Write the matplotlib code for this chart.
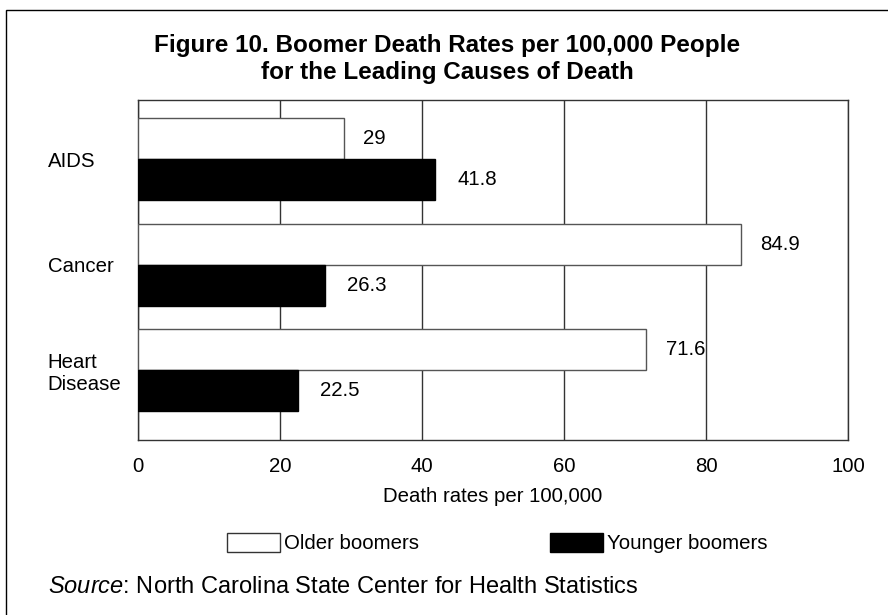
import matplotlib
matplotlib.use("Agg")
import matplotlib.pyplot as plt
from matplotlib.patches import Rectangle, Patch
import numpy as np

plt.rcParams['font.family'] = ['Liberation Sans', 'DejaVu Sans']
plt.rcParams['mathtext.fontset'] = 'custom'
plt.rcParams['mathtext.it'] = 'Liberation Sans:italic'
plt.rcParams['mathtext.rm'] = 'Liberation Sans'

categories = ["AIDS", "Cancer", "Heart\nDisease"]
older = [29, 84.9, 71.6]
younger = [41.8, 26.3, 22.5]
xticks = [0, 20, 40, 60, 80, 100]
series_names = ["Older boomers", "Younger boomers"]

FS = 14.7

fig = plt.figure(figsize=(8.88, 6.15), dpi=100)
ax = fig.add_axes([138/888, 1-440/615, (848-138)/888, 340/615])

y = np.arange(len(categories))
h = 0.39
ax.barh(y - 0.195, older, height=h, color='white', edgecolor='#555555', linewidth=1, zorder=3)
ax.barh(y + 0.195, younger, height=h, color='black', edgecolor='black', linewidth=1, zorder=3)

for yi, v in zip(y, older):
    ax.annotate(f"{v:g}", xy=(v, yi - 0.195), xytext=(14, 0), textcoords='offset points',
                va='center', ha='left', fontsize=FS)
for yi, v in zip(y, younger):
    ax.annotate(f"{v:g}", xy=(v, yi + 0.195), xytext=(16, 0), textcoords='offset points',
                va='center', ha='left', fontsize=FS)

ax.set_xlim(0, 100)
ax.set_ylim(2.66, -0.56)
ax.set_xticks(xticks)
ax.set_xticklabels([str(t) for t in xticks], fontsize=FS)
ax.tick_params(axis='x', length=0, pad=12)
ax.set_yticks(y)
ax.set_yticklabels(categories, fontsize=FS, ha='left', linespacing=1.2)
ax.tick_params(axis='y', length=0, pad=65)
ax.grid(axis='x', color='#333333', linewidth=1, zorder=1)
for s in ax.spines.values():
    s.set_color('#333333')
    s.set_linewidth(1)
ax.set_xlabel("Death rates per 100,000", fontsize=FS, labelpad=8)

fig.text(447/888, 1-59/615, "Figure 10. Boomer Death Rates per 100,000 People\nfor the Leading Causes of Death",
         ha='center', va='center', fontsize=17.5, fontweight='bold', linespacing=1.17)

handles = [Patch(facecolor='white', edgecolor='#333333', linewidth=1),
           Patch(facecolor='black', edgecolor='black', linewidth=1)]
fig.legend(handles, series_names, loc='center', bbox_to_anchor=(497/888, 1-543/615), ncol=2,
           frameon=False, fontsize=FS, handlelength=2.6, handleheight=1.05,
           handletextpad=0.2, columnspacing=6.4)

fig.text(48/888, 1-587/615, r"$\it{Source}$: North Carolina State Center for Health Statistics",
         fontsize=17, va='center', ha='left')

fig.patches.append(Rectangle((6/888, -0.1), 2, 1 - 10/615 + 0.1, transform=fig.transFigure,
                             fill=False, edgecolor='black', linewidth=1))

fig.savefig("out.png", dpi=100)
